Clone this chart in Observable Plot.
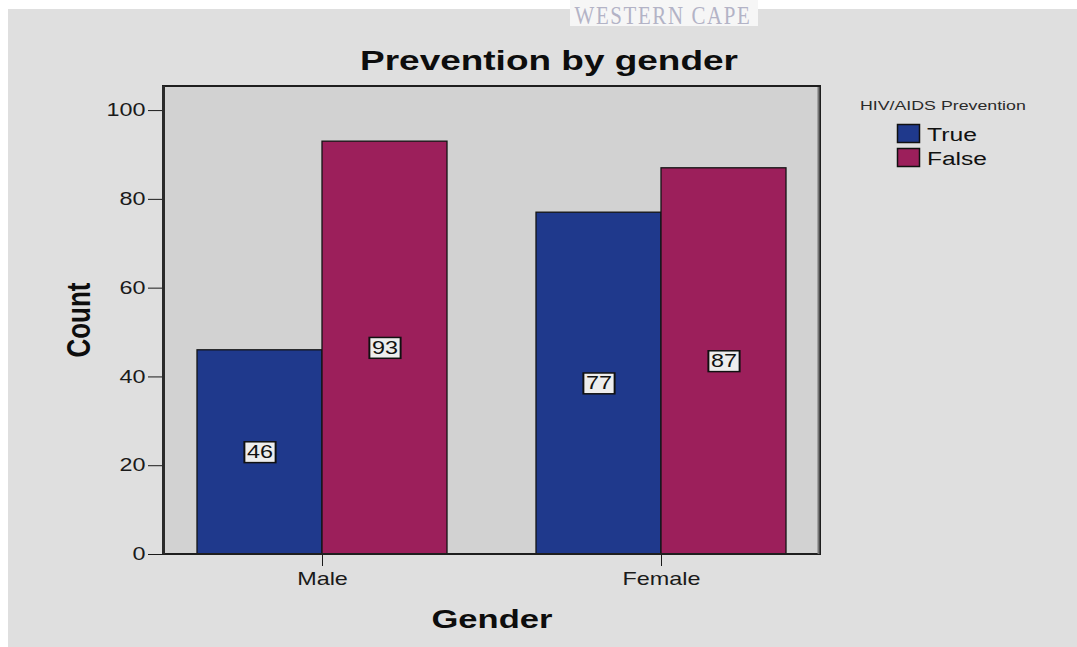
<!DOCTYPE html>
<html>
<head>
<meta charset="utf-8">
<script src="https://cdn.jsdelivr.net/npm/d3@7"></script>
<script src="https://cdn.jsdelivr.net/npm/@observablehq/plot@0.6"></script>
<style>
  html, body { margin: 0; padding: 0; background: #ffffff; }
  body { width: 1077px; height: 647px; position: relative; overflow: hidden; }
  #panel { position: absolute; left: 8px; top: 9px; right: 0; bottom: 0; background: #dfdfdf; }
  #root { position: absolute; left: 0; top: 0; }
  #root svg { display: block; }
</style>
</head>
<body>
<div id="panel"></div>
<div id="root"></div>
<script>
// ---------- data ----------
const genders = ["Male", "Female"];
const preventionLevels = ["True", "False"];
const trueCounts = [46, 77];
const falseCounts = [93, 87];
const seriesColors = ["#1f398c", "#9c1f5b"];
const yTicks = [0, 20, 40, 60, 80, 100];
const titleText = "Prevention by gender";
const legendTitle = "HIV/AIDS Prevention";
const xTitle = "Gender";
const yTitle = "Count";
const watermarkText = "WESTERN CAPE";

const rows = genders.flatMap((g, i) => [
  {gender: g, prevention: preventionLevels[0], count: trueCounts[i]},
  {gender: g, prevention: preventionLevels[1], count: falseCounts[i]}
]);

// ---------- layout ----------
const W = 1077, H = 647;
const M = {top: 87, right: 257, bottom: 93, left: 163};
const FONT = "'Liberation Sans', Arial, Helvetica, sans-serif";
const STRETCH = 1.3;

const plot = Plot.plot({
  width: W, height: H,
  marginTop: M.top, marginRight: M.right, marginBottom: M.bottom, marginLeft: M.left,
  style: {background: "transparent", fontFamily: FONT, fontSize: "18px", color: "#1a1a1a", overflow: "visible"},
  facet: {data: rows, x: "gender"},
  fx: {domain: genders, paddingInner: 0.062, paddingOuter: 0, axis: "bottom", tickSize: 12, tickPadding: 6, label: null},
  x: {domain: preventionLevels, paddingInner: 0, paddingOuter: 0.272, align: 0.5, axis: null},
  y: {domain: [0, 105.2], ticks: yTicks, tickSize: 15, tickPadding: 3, label: null},
  color: {domain: preventionLevels, range: seriesColors},
  marks: [
    Plot.barY(rows, {x: "prevention", y: "count", fill: "prevention", stroke: "#141414", strokeWidth: 1.3}),
    Plot.text(rows, {x: "prevention", y: d => d.count / 2, text: d => String(d.count), fontSize: 18, fill: "#111"})
  ]
});

document.getElementById("root").appendChild(plot);
const svgNode = plot.tagName.toLowerCase() === "svg" ? plot : plot.querySelector("svg");
const svg = d3.select(svgNode);

// plot-area background (behind all marks)
svg.insert("rect", ":scope > g")
  .attr("x", M.left).attr("y", M.top)
  .attr("width", W - M.left - M.right).attr("height", H - M.top - M.bottom)
  .attr("fill", "#d2d2d2");

// horizontally stretch text (the reference image is stretched ~1.3x)
function stretch(el, sx, sy = 1) {
  const b = el.getBBox();
  const anchor = getComputedStyle(el).textAnchor;
  const px = anchor === "end" ? b.x + b.width : anchor === "middle" ? b.x + b.width / 2 : b.x;
  const py = b.y + b.height / 2;
  const t = el.getAttribute("transform") || "";
  el.setAttribute("transform", `${t} translate(${px},${py}) scale(${sx},${sy}) translate(${-px},${-py})`);
}
svg.selectAll("text").each(function() { stretch(this, STRETCH); });

// light boxes behind value labels
const countStrings = new Set(rows.map(d => String(d.count)));
svg.selectAll("text").filter(function() { return countStrings.has(this.textContent); }).each(function() {
  const b = this.getBBox();
  const r = document.createElementNS("http://www.w3.org/2000/svg", "rect");
  r.setAttribute("x", b.x - 2);
  r.setAttribute("y", b.y);
  r.setAttribute("width", b.width + 4);
  r.setAttribute("height", b.height + 1);
  r.setAttribute("fill", "#ededed");
  r.setAttribute("stroke", "#111");
  r.setAttribute("stroke-width", 1.5);
  const t = this.getAttribute("transform");
  if (t) r.setAttribute("transform", t);
  this.parentNode.insertBefore(r, this);
});

// plot frame
svg.append("rect")
  .attr("x", M.left).attr("y", M.top - 1)
  .attr("width", W - M.left - M.right).attr("height", H - M.top - M.bottom + 1)
  .attr("fill", "none").attr("stroke", "#1e1e1e").attr("stroke-width", 2);
svg.append("line")
  .attr("x1", M.left + 0.5).attr("x2", M.left + 0.5)
  .attr("y1", M.top - 1).attr("y2", H - M.bottom)
  .attr("stroke", "#2a2a2a").attr("stroke-width", 3);
svg.append("line")
  .attr("x1", W - M.right - 1.5).attr("x2", W - M.right - 1.5)
  .attr("y1", M.top).attr("y2", H - M.bottom)
  .attr("stroke", "#777").attr("stroke-width", 2);

// helper for extra texts, fitted to a target width
function addText(str, x, y, opts) {
  const t = svg.append("text")
    .attr("x", x).attr("y", y)
    .attr("font-family", opts.family || FONT)
    .attr("font-size", opts.size)
    .attr("font-weight", opts.weight || "normal")
    .attr("fill", opts.fill || "#111")
    .attr("text-anchor", opts.anchor || "start")
    .attr("letter-spacing", opts.spacing || 0)
    .text(str);
  const node = t.node();
  const len = node.getComputedTextLength();
  const sx = opts.width ? opts.width / len : STRETCH;
  t.attr("transform", `translate(${x},${y}) scale(${sx},1) translate(${-x},${-y})`);
  return t;
}

// watermark strip
svg.append("rect").attr("x", 570).attr("y", 0).attr("width", 188).attr("height", 26).attr("fill", "#f6f6f6");
addText(watermarkText, 663, 24, {family: "'Liberation Serif', 'Times New Roman', serif", size: 26, fill: "#b3b3c6", anchor: "middle", width: 177, spacing: 2});

// title and axis titles
addText(titleText, 549, 70, {size: 28, weight: "bold", anchor: "middle", width: 378, fill: "#0d0d0d"});
addText(xTitle, 492, 628, {size: 26, weight: "bold", anchor: "middle", width: 121, fill: "#0d0d0d"});
svg.append("text")
  .attr("transform", `translate(90,320) rotate(-90) scale(1,${STRETCH})`)
  .attr("font-family", FONT).attr("font-size", 26).attr("font-weight", "bold")
  .attr("text-anchor", "middle").attr("fill", "#0d0d0d")
  .text(yTitle);

// legend built from the plot's color scale
const colorScale = plot.scale("color");
addText(legendTitle, 860, 110, {size: 13.5, fill: "#2a2a2a", width: 166});
const legendY = [124, 148];
const legendWidths = [50, 60];
colorScale.domain.forEach((key, i) => {
  svg.append("rect")
    .attr("x", 897.5).attr("y", legendY[i] + 0.5)
    .attr("width", 22).attr("height", 18)
    .attr("fill", colorScale.apply(key))
    .attr("stroke", "#111").attr("stroke-width", 1.5);
  addText(key, 927, legendY[i] + 17, {size: 18, fill: "#111", width: legendWidths[i]});
});
</script>
</body>
</html>
